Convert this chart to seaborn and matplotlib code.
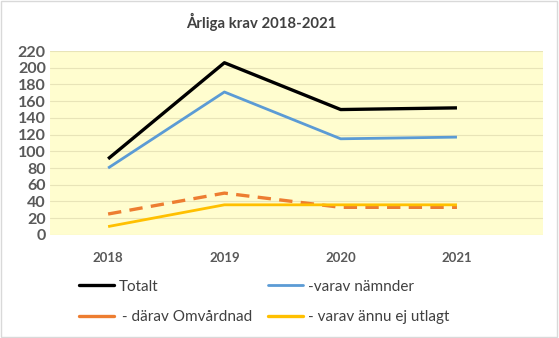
import matplotlib
matplotlib.use("Agg")
import matplotlib.pyplot as plt
import seaborn as sns
import pandas as pd

years = ["2018", "2019", "2020", "2021"]
totalt = [91, 206, 150, 152]
namnder = [80, 171, 115, 117]
omvardnad = [25, 50, 33, 33]
ej_utlagt = [10, 36, 36, 36]

series_names = ["Totalt", "-varav nämnder", " - därav Omvårdnad", "- varav ännu ej utlagt"]
series_values = [totalt, namnder, omvardnad, ej_utlagt]
colors = ["#000000", "#5B9BD5", "#ED7D31", "#FFC000"]

rows = []
for name, vals in zip(series_names, series_values):
    for i, (y, v) in enumerate(zip(years, vals)):
        rows.append({"pos": i, "year": y, "value": v, "series": name})
df = pd.DataFrame(rows)

sns.set_style("white")
plt.rcParams["font.family"] = ["Lato", "DejaVu Sans"]

fig = plt.figure(figsize=(5.59, 3.38), dpi=100)
fig.patch.set_facecolor("white")
ax = fig.add_axes([0.0894, 0.305, 0.882, 0.544])
ax.set_facecolor("#FFFDCF")

sns.lineplot(
    data=df, x="pos", y="value", hue="series", style="series",
    hue_order=series_names, style_order=series_names,
    palette=dict(zip(series_names, colors)),
    dashes={series_names[0]: "", series_names[1]: "",
            series_names[2]: (4, 2.5), series_names[3]: ""},
    linewidth=2.0, ax=ax, legend=False,
)
for line, w in zip(ax.get_lines(), [2.4, 2.0, 2.4, 2.0]):
    line.set_linewidth(w)
    line.set_solid_capstyle("butt")

ax.set_xlim(-0.5, 3.74)
ax.set_ylim(0, 220)
ax.set_yticks(range(0, 221, 20))
ax.set_xticks(range(len(years)))
ax.set_xticklabels(years)
ax.yaxis.grid(True, color="#E8E4B8", linewidth=0.8)
ax.set_axisbelow(True)
for s in ax.spines.values():
    s.set_visible(False)
ax.tick_params(axis="y", labelsize=11.5, colors="#595959", length=0, pad=3)
ax.tick_params(axis="x", labelsize=9.5, colors="#595959", length=0, pad=12)
for lbl in ax.get_yticklabels() + ax.get_xticklabels():
    lbl.set_fontweight("bold")
ax.set_xlabel("")
ax.set_ylabel("")

fig.text(0.467, 0.935, "Årliga krav 2018-2021", ha="center", va="center",
         fontsize=10.7, fontweight="bold", color="#404040")

handles = [plt.Line2D([], [], color=c, lw=2.4 if i != 1 else 2.0,
                      linestyle="-") for i, c in enumerate(colors)]
order = [0, 2, 1, 3]
leg = fig.legend([handles[i] for i in order], [series_names[i] for i in order],
                 ncol=2, loc="center", bbox_to_anchor=(0.472, 0.107),
                 frameon=False, fontsize=11, handlelength=2.3,
                 handletextpad=0.3, columnspacing=1.0, labelspacing=1.05)
for t in leg.get_texts():
    t.set_color("#404040")

border = plt.Rectangle((0.002, 0.003), 0.995, 0.993, transform=fig.transFigure,
                       fill=False, edgecolor="#D9D9D9", linewidth=1)
fig.add_artist(border)

fig.savefig("out.png", dpi=100)
